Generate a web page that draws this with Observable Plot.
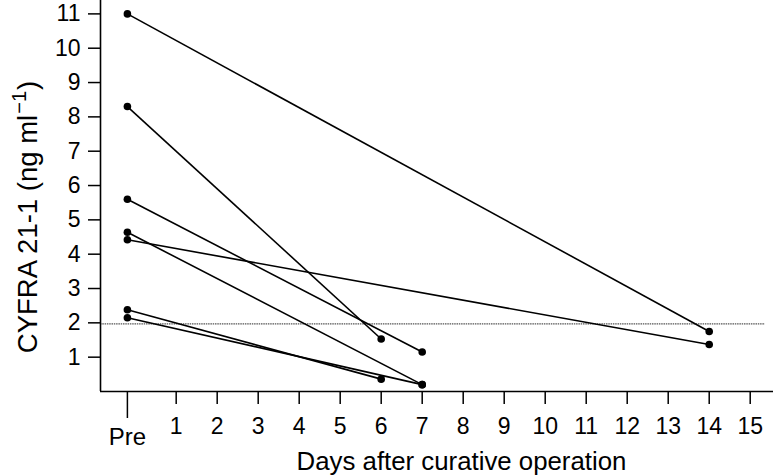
<!DOCTYPE html>
<html>
<head>
<meta charset="utf-8">
<script src="https://cdn.jsdelivr.net/npm/d3@7"></script>
<script src="https://cdn.jsdelivr.net/npm/@observablehq/plot@0.6"></script>
<style>
  html, body { margin: 0; padding: 0; background: white; }
  #chart svg { display: block; }
</style>
</head>
<body>
<div id="chart"></div>
<script>
// ---- data ----
const preValues  = [11.0, 8.30, 5.60, 4.64, 4.42, 2.38, 2.15];   // CYFRA 21-1 before operation
const postDays   = [14, 6, 7, 7, 14, 6, 7];                        // day of post-operative measurement
const postValues = [1.75, 1.53, 1.15, 0.20, 1.37, 0.36, 0.20];    // CYFRA 21-1 after operation
const dayTicks   = [1, 2, 3, 4, 5, 6, 7, 8, 9, 10, 11, 12, 13, 14, 15];
const yTicks     = [1, 2, 3, 4, 5, 6, 7, 8, 9, 10, 11];
const preLabel   = "Pre";
const cutoff     = 2;
const xTitle     = "Days after curative operation";
const yTitleMain = "CYFRA 21-1 (ng ml";
const yTitleSup  = "\u22121";
const yTitleEnd  = ")";

// ---- layout constants ----
const PRE_X = -0.19;
const xDomain = [-0.846, 15.568];
const yDomain = [0, 11.39];
const FONT = "'Liberation Sans', Arial, Helvetica, sans-serif";

const idx = d3.range(preValues.length);
const prePts = idx.map(i => ({x: PRE_X, y: preValues[i]}));
const postPts = idx.map(i => ({x: postDays[i], y: postValues[i]}));

const svg = Plot.plot({
  width: 773,
  height: 476,
  marginLeft: 100,
  marginRight: 0,
  marginTop: 0,
  marginBottom: 85,
  style: {fontFamily: FONT, fontSize: "23px", background: "white", color: "black", overflow: "visible"},
  x: {domain: xDomain},
  y: {domain: yDomain},
  marks: [
    Plot.ruleY([cutoff], {x1: xDomain[0], x2: 15.37, dy: 1, stroke: "#555", strokeWidth: 1.4, strokeDasharray: "1.5,0.8"}),
    Plot.link(idx, {
      x1: PRE_X,
      y1: i => preValues[i],
      x2: i => postDays[i],
      y2: i => postValues[i],
      stroke: "black",
      strokeWidth: 1.6
    }),
    Plot.dot(prePts, {x: "x", y: "y", r: 3.8, fill: "black", stroke: null}),
    Plot.dot(postPts, {x: "x", y: "y", r: 3.8, fill: "black", stroke: null}),
    Plot.ruleY([yDomain[0]], {stroke: "black", strokeWidth: 1.6}),
    Plot.ruleX([xDomain[0]], {stroke: "black", strokeWidth: 1.6}),
    Plot.axisY({ticks: yTicks, tickSize: 12, tickPadding: 8, strokeWidth: 1.5, label: null}),
    Plot.axisX({ticks: dayTicks, tickSize: 13, tickPadding: 13, strokeWidth: 1.5, label: null}),
    Plot.axisX({ticks: [PRE_X], tickFormat: () => preLabel, tickSize: 27, tickPadding: 9, strokeWidth: 1.5, label: null})
  ]
});

const s = d3.select(svg);
s.selectAll("text").filter(function () { return this.textContent === preLabel; })
  .style("font-size", "24px");

s.append("text")
  .attr("x", 461.5)
  .attr("y", 470)
  .attr("text-anchor", "middle")
  .style("font-size", "25.8px")
  .attr("font-family", FONT)
  .attr("fill", "black")
  .text(xTitle);

const yt = s.append("text")
  .attr("transform", "translate(37,217) rotate(-90)")
  .attr("text-anchor", "middle")
  .style("font-size", "27.5px")
  .attr("font-family", FONT)
  .attr("fill", "black");
yt.append("tspan").text(yTitleMain);
yt.append("tspan").style("font-size", "20px").attr("dx", 1).attr("dy", -11).text(yTitleSup);
yt.append("tspan").attr("dx", 1).attr("dy", 11).text(yTitleEnd);

document.getElementById("chart").appendChild(svg);
</script>
</body>
</html>
